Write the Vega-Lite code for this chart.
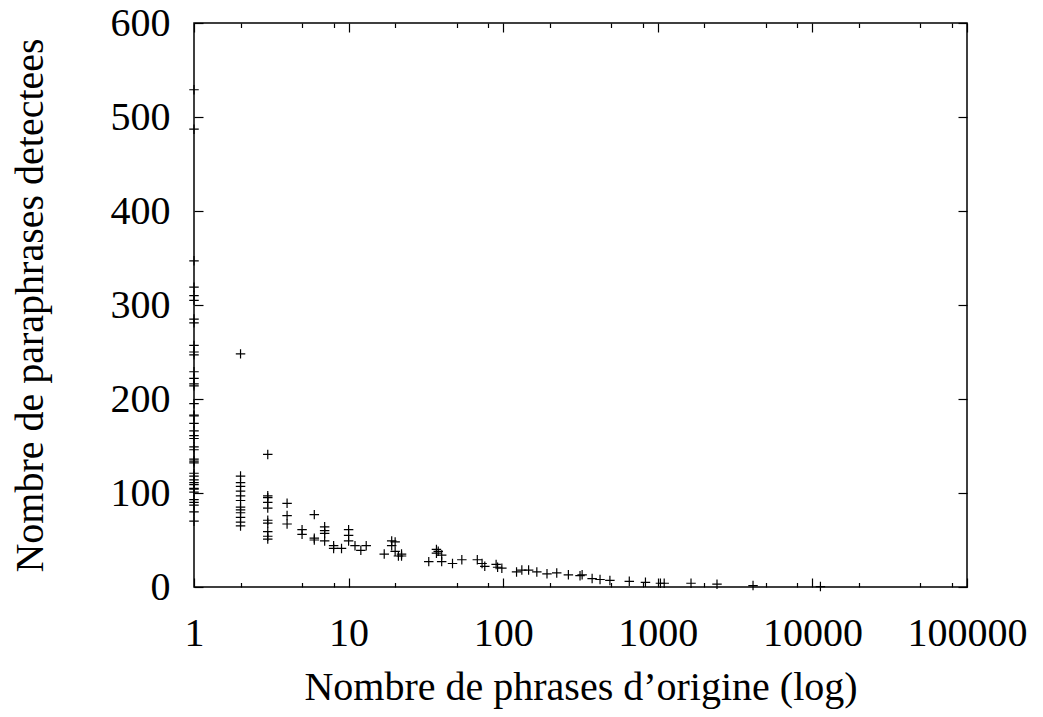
{
  "$schema": "https://vega.github.io/schema/vega-lite/v6.json",
  "autosize": "none",
  "padding": {"left": 194, "top": 23, "right": 76, "bottom": 130},
  "width": 773,
  "height": 564,
  "background": "white",
  "config": {
    "view": {"stroke": "black", "strokeWidth": 1.5},
    "font": "Liberation Serif",
    "axis": {
      "domain": false,
      "grid": false,
      "labelFont": "Liberation Serif",
      "titleFont": "Liberation Serif",
      "labelFontSize": 40,
      "titleFontSize": 40,
      "titleFontWeight": "normal",
      "labelColor": "black",
      "titleColor": "black",
      "tickColor": "black",
      "tickWidth": 1.2
    }
  },
  "data": {"values": [
    {"x":1,"y":529},{"x":1,"y":487},{"x":1,"y":347},{"x":1,"y":319},{"x":1,"y":310},{"x":1,"y":305},{"x":1,"y":285},{"x":1,"y":281},
    {"x":1,"y":257},{"x":1,"y":250},{"x":1,"y":247},{"x":1,"y":229},{"x":1,"y":222},{"x":1,"y":216},{"x":1,"y":214},{"x":1,"y":195},
    {"x":1,"y":183},{"x":1,"y":182},{"x":1,"y":174},{"x":1,"y":166},{"x":1,"y":161},{"x":1,"y":158},{"x":1,"y":149},{"x":1,"y":146},
    {"x":1,"y":136},{"x":1,"y":134},{"x":1,"y":132},{"x":1,"y":121},{"x":1,"y":118},{"x":1,"y":114},{"x":1,"y":111},{"x":1,"y":109},
    {"x":1,"y":105},{"x":1,"y":104},{"x":1,"y":101},{"x":1,"y":93},{"x":1,"y":90},{"x":1,"y":87},{"x":1,"y":80},{"x":1,"y":70},
    {"x":2,"y":248},{"x":2,"y":118},{"x":2,"y":111},{"x":2,"y":107},{"x":2,"y":102},{"x":2,"y":97},{"x":2,"y":92},{"x":2,"y":85},
    {"x":2,"y":82},{"x":2,"y":79},{"x":2,"y":74},{"x":2,"y":69},{"x":2,"y":65},
    {"x":3,"y":141},{"x":3,"y":97},{"x":3,"y":95},{"x":3,"y":90},{"x":3,"y":84},{"x":3,"y":71},{"x":3,"y":68},{"x":3,"y":59},{"x":3,"y":54},{"x":3,"y":51},
    {"x":4,"y":89},{"x":4,"y":76},{"x":4,"y":67},
    {"x":5,"y":61},{"x":5,"y":56},
    {"x":6,"y":77},{"x":6,"y":52},{"x":6,"y":50},
    {"x":7,"y":64},{"x":7,"y":60},{"x":7,"y":57},{"x":7,"y":49},
    {"x":8,"y":44},{"x":8,"y":41},
    {"x":9,"y":41},
    {"x":10,"y":61},{"x":10,"y":55},{"x":10,"y":49},
    {"x":11,"y":44},{"x":12,"y":39},{"x":13,"y":44},{"x":17,"y":35},
    {"x":19,"y":49},{"x":19,"y":44},{"x":20,"y":48},{"x":20,"y":38},{"x":21,"y":33},{"x":22,"y":35},{"x":22,"y":33},
    {"x":33,"y":27},{"x":37,"y":40},{"x":37,"y":36},{"x":38,"y":38},{"x":40,"y":34},{"x":40,"y":27},
    {"x":47,"y":25},{"x":54,"y":29},{"x":68,"y":29},{"x":73,"y":25},{"x":76,"y":22},{"x":90,"y":24},{"x":92,"y":21},{"x":98,"y":20},
    {"x":122,"y":16},{"x":132,"y":18},{"x":146,"y":18},{"x":165,"y":16},{"x":192,"y":14},{"x":222,"y":15},{"x":264,"y":13},
    {"x":314,"y":12},{"x":324,"y":13},{"x":376,"y":9},{"x":423,"y":8},{"x":490,"y":7},{"x":654,"y":6},{"x":832,"y":5},
    {"x":1040,"y":4},{"x":1100,"y":4},{"x":1640,"y":4},{"x":2415,"y":3},{"x":4130,"y":1.5},{"x":11270,"y":0.5}
  ]},
  "layer": [
    {
      "mark": {"type": "point", "shape": "M-1,0L1,0M0,-1L0,1", "filled": false, "size": 90, "stroke": "black", "strokeWidth": 1.2, "opacity": 1},
      "encoding": {
        "x": {"field": "x", "type": "quantitative",
          "scale": {"type": "log", "domain": [1, 100000], "nice": false},
          "axis": {"orient": "bottom", "title": "Nombre de phrases d’origine (log)",
            "values": [1,2,5,8,10,20,50,80,100,200,500,800,1000,2000,5000,8000,10000,20000,50000,80000,100000],
            "format": "d",
            "labelExpr": "indexof([1,10,100,1000,10000,100000], datum.value) >= 0 ? datum.label : ''",
            "tickSize": {"condition": {"test": "indexof([1,10,100,1000,10000,100000], datum.value) >= 0", "value": -9}, "value": -4.5},
            "labelPadding": 35, "titlePadding": 10, "labelFlush": false, "labelOverlap": false}},
        "y": {"field": "y", "type": "quantitative",
          "scale": {"domain": [0, 600], "nice": false, "zero": true},
          "axis": {"orient": "left", "title": "Nombre de paraphrases detectees",
            "values": [0,100,200,300,400,500,600], "tickSize": -9, "labelPadding": 33, "titlePadding": 60, "labelFlush": false}}
      }
    },
    {
      "mark": {"type": "point", "opacity": 0},
      "encoding": {
        "x": {"field": "x", "type": "quantitative",
          "scale": {"type": "log", "domain": [1, 100000], "nice": false},
          "axis": {"orient": "top", "title": null, "labels": false,
            "values": [1,2,5,8,10,20,50,80,100,200,500,800,1000,2000,5000,8000,10000,20000,50000,80000,100000],
            "tickSize": {"condition": {"test": "indexof([1,10,100,1000,10000,100000], datum.value) >= 0", "value": -9}, "value": -4.5}}},
        "y": {"field": "y", "type": "quantitative",
          "scale": {"domain": [0, 600], "nice": false, "zero": true},
          "axis": {"orient": "right", "title": null, "labels": false,
            "values": [0,100,200,300,400,500,600], "tickSize": -9}}
      }
    }
  ],
  "resolve": {"axis": {"x": "independent", "y": "independent"}}
}
